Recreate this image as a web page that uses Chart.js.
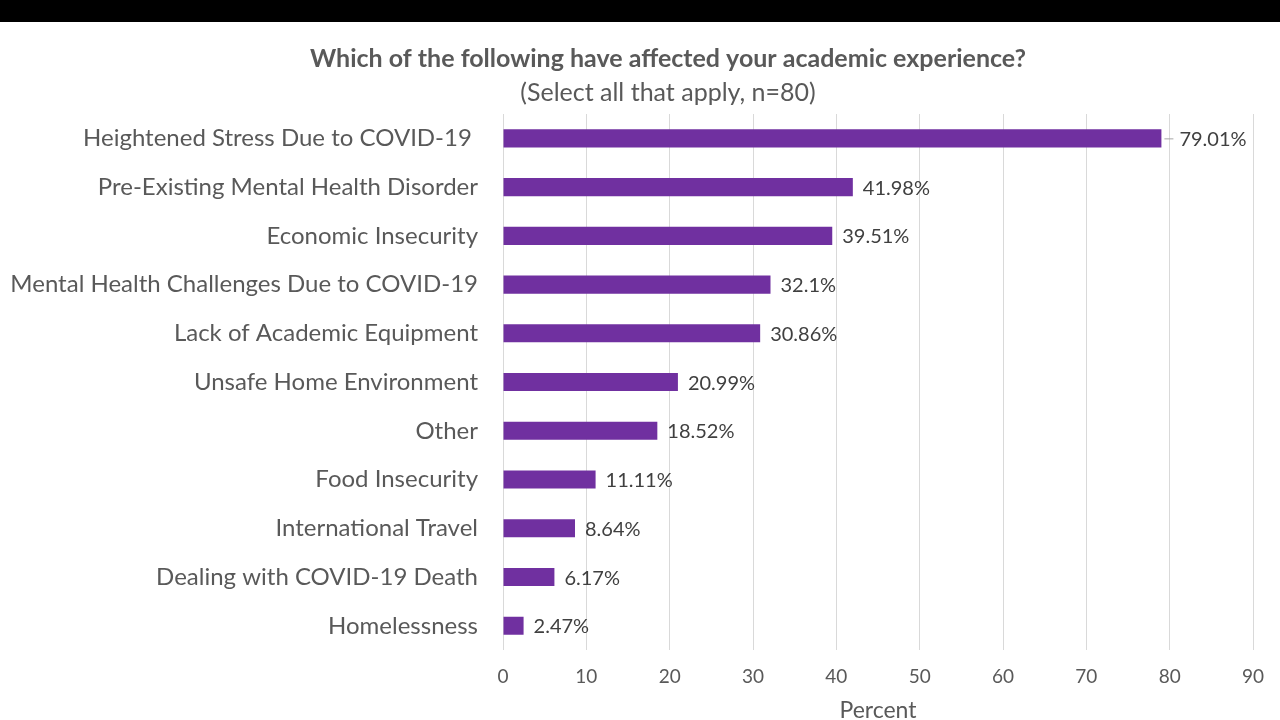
<!DOCTYPE html>
<html>
<head>
<meta charset="utf-8">
<script src="https://cdn.jsdelivr.net/npm/chart.js@4"></script>
<style>
    html, body { margin: 0; padding: 0; background: #fff; overflow: hidden; }
    #topBar { width: 1280px; height: 22px; background: #000; }
    #wrap { width: 1280px; height: 700px; }
</style>
</head>
<body>
<div id="topBar"></div>
<div id="wrap"><canvas id="chart" width="1280" height="700"></canvas></div>
<script>
// chart data
const categories = [
    'Heightened Stress Due to COVID-19 ',
    'Pre-Existing Mental Health Disorder',
    'Economic Insecurity',
    'Mental Health Challenges Due to COVID-19',
    'Lack of Academic Equipment',
    'Unsafe Home Environment',
    'Other',
    'Food Insecurity',
    'International Travel',
    'Dealing with COVID-19 Death',
    'Homelessness'
];
const percentValues = [79.01, 41.98, 39.51, 32.1, 30.86, 20.99, 18.52, 11.11, 8.64, 6.17, 2.47];
const valueLabels = ['79.01%', '41.98%', '39.51%', '32.1%', '30.86%', '20.99%', '18.52%', '11.11%', '8.64%', '6.17%', '2.47%'];
const xTicks = [0, 10, 20, 30, 40, 50, 60, 70, 80, 90];
const titleText = 'Which of the following have affected your academic experience?';
const subtitleText = '(Select all that apply, n=80)';

const FONT = 'Lato, "Open Sans", sans-serif';
const GREY = '#595959';

// title block is off-centre in the original, so draw it by hand
const titleBlock = {
    id: 'titleBlock',
    afterDraw(chart) {
        const ctx = chart.ctx;
        ctx.save();
        ctx.fillStyle = GREY;
        ctx.textAlign = 'center';
        ctx.textBaseline = 'middle';
        ctx.font = 'bold 25px ' + FONT;
        ctx.fillText(titleText, 668, 37);
        ctx.font = '25px ' + FONT;
        ctx.fillText(subtitleText, 668, 71);
        ctx.restore();
    }
};

// value at the end of each bar
const barLabels = {
    id: 'barLabels',
    afterDatasetsDraw(chart) {
        const ctx = chart.ctx;
        const meta = chart.getDatasetMeta(0);
        ctx.save();
        ctx.font = '20px ' + FONT;
        ctx.fillStyle = '#404040';
        ctx.strokeStyle = '#a6a6a6';
        ctx.lineWidth = 1;
        ctx.textBaseline = 'middle';
        ctx.textAlign = 'left';
        meta.data.forEach((bar, i) => {
            let gap = 10;
            if (i === 0) {
                // first label sits further out with a small leader line
                ctx.beginPath();
                ctx.moveTo(bar.x + 3, bar.y + 0.5);
                ctx.lineTo(bar.x + 12, bar.y + 0.5);
                ctx.stroke();
                gap = 18;
            }
            ctx.fillText(valueLabels[i], bar.x + gap, bar.y + 1);
        });
        ctx.restore();
    }
};

const ctx = document.getElementById('chart');
new Chart(ctx, {
    type: 'bar',
    data: {
        labels: categories,
        datasets: [{
            data: percentValues,
            backgroundColor: '#7030A0',
            barPercentage: 0.37,
            categoryPercentage: 1
        }]
    },
    options: {
        indexAxis: 'y',
        responsive: false,
        animation: false,
        layout: { padding: { left: 0, right: 27, top: 92, bottom: 0 } },
        plugins: {
            legend: { display: false },
            tooltip: { enabled: false }
        },
        scales: {
            x: {
                min: 0,
                max: 90,
                afterBuildTicks(scale) {
                    scale.ticks = xTicks.map(v => ({ value: v }));
                },
                grid: { color: '#d9d9d9', drawTicks: false },
                border: { display: false },
                ticks: {
                    color: GREY,
                    font: { family: FONT, size: 19 },
                    padding: 15
                },
                title: {
                    display: true,
                    text: 'Percent',
                    color: GREY,
                    font: { family: FONT, size: 23, lineHeight: 1 },
                    padding: { top: -4, bottom: 0 }
                }
            },
            y: {
                grid: { display: false, drawTicks: false, tickLength: 0 },
                border: { display: false },
                ticks: {
                    color: GREY,
                    font: { family: FONT, size: 24 },
                    padding: 25,
                    autoSkip: false
                },
                afterFit(scale) {
                    scale.width = 503;
                }
            }
        }
    },
    plugins: [barLabels, titleBlock]
});
</script>
</body>
</html>
